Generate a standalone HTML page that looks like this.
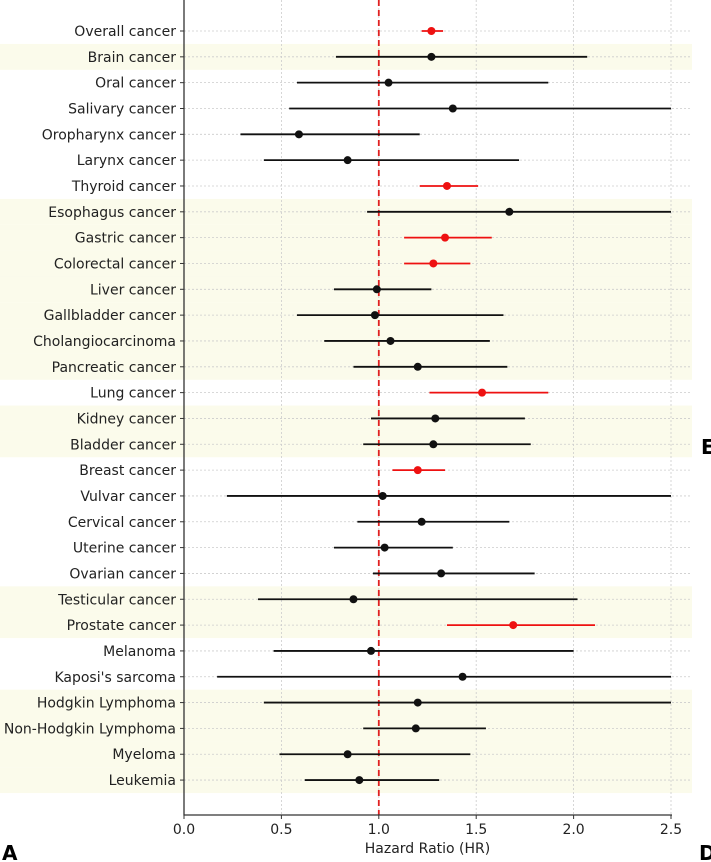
<!DOCTYPE html>
<html><head><meta charset="utf-8"><style>
html,body{margin:0;padding:0;background:#fff;}
svg{display:block;font-family:"DejaVu Sans","Liberation Sans",sans-serif;}
</style></head><body>
<svg id="chart" width="711" height="862" xmlns="http://www.w3.org/2000/svg"></svg>
<script>
const categories=["Overall cancer","Brain cancer","Oral cancer","Salivary cancer","Oropharynx cancer","Larynx cancer","Thyroid cancer","Esophagus cancer","Gastric cancer","Colorectal cancer","Liver cancer","Gallbladder cancer","Cholangiocarcinoma","Pancreatic cancer","Lung cancer","Kidney cancer","Bladder cancer","Breast cancer","Vulvar cancer","Cervical cancer","Uterine cancer","Ovarian cancer","Testicular cancer","Prostate cancer","Melanoma","Kaposi's sarcoma","Hodgkin Lymphoma","Non-Hodgkin Lymphoma","Myeloma","Leukemia"];
const hr=[1.27,1.27,1.05,1.38,0.59,0.84,1.35,1.67,1.34,1.28,0.99,0.98,1.06,1.20,1.53,1.29,1.28,1.20,1.02,1.22,1.03,1.32,0.87,1.69,0.96,1.43,1.20,1.19,0.84,0.90];
const lower=[1.22,0.78,0.58,0.54,0.29,0.41,1.21,0.94,1.13,1.13,0.77,0.58,0.72,0.87,1.26,0.96,0.92,1.07,0.22,0.89,0.77,0.97,0.38,1.35,0.46,0.17,0.41,0.92,0.49,0.62];
const upper=[1.33,2.07,1.87,2.5,1.21,1.72,1.51,2.5,1.58,1.47,1.27,1.64,1.57,1.66,1.87,1.75,1.78,1.34,2.5,1.67,1.38,1.80,2.02,2.11,2.0,2.5,2.5,1.55,1.47,1.31];
const significant=[1,0,0,0,0,0,1,0,1,1,0,0,0,0,1,0,0,1,0,0,0,0,0,1,0,0,0,0,0,0];
const shaded=[1,7,8,9,10,11,12,13,15,16,22,23,26,27,28,29];
const xTicks=[0,0.5,1.0,1.5,2.0,2.5];
const xTickLabels=["0.0","0.5","1.0","1.5","2.0","2.5"];

const svg=document.getElementById('chart');
const NS='http://www.w3.org/2000/svg';
const X0=184,XR=692,AXY=815;
const x=v=>184+v*194.8;
const y=i=>31+i*25.83;
function mk(t,a,p){const e=document.createElementNS(NS,t);for(const k in a)e.setAttribute(k,a[k]);(p||svg).appendChild(e);return e;}

shaded.forEach(i=>{
  const r=mk('rect',{x:0,y:y(i)-12.9,width:XR,height:25.9,fill:'#fbfbeb'});
  
  
});
xTicks.forEach((t,k)=>{
  const g=mk('line',{x1:x(t),x2:x(t),y1:0,y2:AXY,stroke:'#ccc','stroke-width':0.8,'stroke-dasharray':'2,2'});
  
  
  const tk=mk('line',{x1:x(t),x2:x(t),y1:AXY,y2:AXY+4,stroke:'#333','stroke-width':1});
  
  
  const tl=mk('text',{x:x(t),y:AXY+19,'text-anchor':'middle','font-size':14,fill:'#222'});
  tl.textContent=xTickLabels[k];
  
  
});
categories.forEach((c,i)=>{
  const g=mk('line',{x1:X0,x2:XR,y1:y(i),y2:y(i),stroke:'#ccc','stroke-width':0.8,'stroke-dasharray':'2,2'});
  
  
  const tk=mk('line',{x1:X0-4,x2:X0,y1:y(i),y2:y(i),stroke:'#333','stroke-width':1});
  
  
  const t=mk('text',{x:X0-8,y:y(i)+5,'text-anchor':'end','font-size':14,fill:'#222'});
  t.textContent=c;
  
  
});
const ref=mk('line',{x1:x(1),x2:x(1),y1:0,y2:AXY,stroke:'#e02020','stroke-width':1.8,'stroke-dasharray':'6,4'});


categories.forEach((c,i)=>{
  const col=significant[i]?'#ee1111':'#111';
  const l=mk('line',{x1:x(lower[i]),x2:x(upper[i]),y1:y(i),y2:y(i),stroke:col,'stroke-width':1.8});
  
  
  const p=mk('circle',{cx:x(hr[i]),cy:y(i),r:4,fill:col});
  
  
});
const ax=mk('path',{d:`M${X0} 0 V${AXY} H${x(2.5)+1}`,stroke:'#333','stroke-width':1.3,fill:'none'});


const xt=mk('text',{x:x(1.25),y:853,'text-anchor':'middle','font-size':14,fill:'#222'});
xt.textContent='Hazard Ratio (HR)';


[['A',2,860],['D',699,860],['E',701,454]].forEach(a=>{
  const t=mk('text',{x:a[1],y:a[2],'font-size':20,'font-weight':'bold',fill:'#000'});
  t.textContent=a[0];
  
  
});
</script>
</body></html>
